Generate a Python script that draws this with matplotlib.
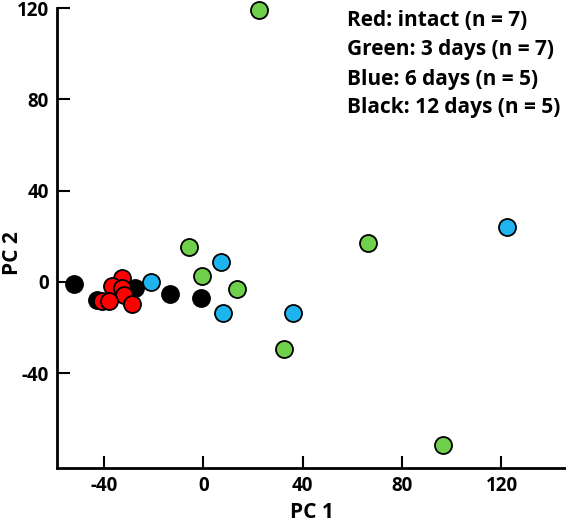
import matplotlib
matplotlib.use("Agg")
import matplotlib.pyplot as plt

plt.rcParams['font.family'] = ['Open Sans', 'DejaVu Sans']
plt.rcParams['font.weight'] = 'bold'
plt.rcParams['axes.unicode_minus'] = False

red_x = [-32.7, -37, -33, -32, -41, -38, -28.7]
red_y = [1.7, -1.8, -2.5, -5.7, -8.3, -8.5, -9.6]
green_x = [22.2, -6, -0.8, 13.3, 66.3, 32.3, 96.6]
green_y = [119, 15.5, 2.6, -3, 17, -29.3, -71.4]
blue_x = [122.4, 36, 6.9, 8, -21]
blue_y = [24, -13.5, 8.7, -13.7, 0]
black_x = [-52, -43, -27.5, -13.3, -1.2]
black_y = [-1, -8, -2.6, -5.2, -7]

legend_lines = ["Red: intact (n = 7)", "Green: 3 days (n = 7)",
                "Blue: 6 days (n = 5)", "Black: 12 days (n = 5)"]
xticks = [-40, 0, 40, 80, 120]
yticks = [-40, 0, 40, 80, 120]

fig = plt.figure(figsize=(5.66, 5.21), dpi=100)
ax = fig.add_axes([57/566, 53/521, (565-57)/566, (468-8)/521])

ms = 150
kw = dict(s=ms, edgecolors='black', linewidths=1.3, clip_on=False)
ax.scatter(black_x, black_y, c='#000000', zorder=3, **kw)
ax.scatter(red_x, red_y, c='#ff0000', zorder=4, **kw)
ax.scatter(blue_x, blue_y, c='#1eb4ef', zorder=3, **kw)
ax.scatter(green_x, green_y, c='#6fd14b', zorder=3, **kw)

ax.set_xlim(-59, 145.6)
ax.set_ylim(-81.5, 120)
ax.set_xticks(xticks)
ax.set_yticks(yticks)
ax.set_xticklabels([str(t) for t in xticks])
ax.set_yticklabels([str(t) for t in yticks])
for s in ['top', 'right']:
    ax.spines[s].set_visible(False)
for s in ['left', 'bottom']:
    ax.spines[s].set_linewidth(2)
ax.tick_params(direction='in', length=9, width=1.5, labelsize=13.5, pad=6)
for lbl in ax.get_xticklabels() + ax.get_yticklabels():
    lbl.set_fontweight('bold')

ax.set_xlabel("PC 1", fontsize=15, fontweight='bold')
ax.set_ylabel("PC 2", fontsize=15, fontweight='bold')
ax.xaxis.set_label_coords((312 - 57) / 508, -(512 - 468) / 460, transform=ax.transAxes)
ax.yaxis.set_label_coords(-(57 - 12) / 508, (468 - 253) / 460, transform=ax.transAxes)
ax.xaxis.label.set_va('center')
ax.yaxis.label.set_va('center')

ys = [21, 50, 79, 107]
for txt, yp in zip(legend_lines, ys):
    fig.text(347/566, 1 - yp/521, txt, fontsize=15, fontweight='bold', ha='left', va='center')

fig.savefig("out.png", dpi=100)
